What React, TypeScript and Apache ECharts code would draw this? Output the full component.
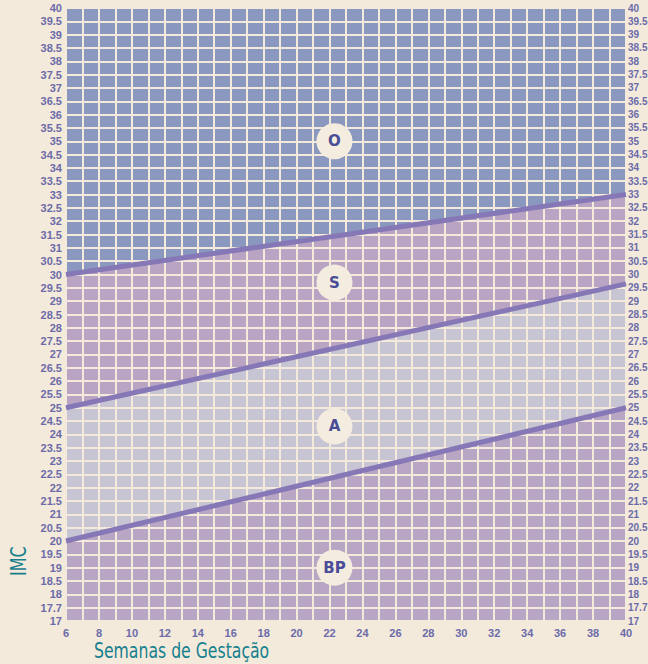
import React, { useEffect, useRef } from "react";
import * as echarts from "echarts";

const weeks = [6, 40];
const boundaryOS = [30, 33];
const boundarySA = [25, 29.65];
const boundaryABP = [20, 25];
const zoneLabels = ["O", "S", "A", "BP"];
const zoneLabelPoints = [
  [22.3, 35],
  [22.3, 29.7],
  [22.3, 24.3],
  [22.3, 19],
];
const yTickRename: Record<string, string> = { "17.5": "17.7" };

const BG = "#f3eadb";
const C_O = "#8a97bf";
const C_S = "#baa4c3";
const C_A = "#c7c4d3";
const C_BP = "#b9a5c4";
const LINE = "#8678b6";
const TICK = "#6c6aa9";
const TEAL = "#17808f";

function pts(vals: number[]) {
  return weeks.map((w, i) => [w, vals[i]]);
}

export default function App() {
  const ref = useRef<HTMLDivElement>(null);
  useEffect(() => {
    const chart = echarts.init(ref.current!, null, { renderer: "svg" });
    const yLabel = {
      color: TICK,
      fontWeight: "bold" as const,
      fontFamily: "Liberation Sans, Arial, sans-serif",
      formatter: (v: number) => yTickRename[String(v)] ?? String(v),
    };
    const split = { show: true, lineStyle: { color: BG, width: 2 } };
    const areaSeries = (vals: number[], color: string, origin: string, z: number) => ({
      type: "line",
      data: pts(vals),
      symbol: "none",
      z,
      lineStyle: { width: 0 },
      areaStyle: { color, opacity: 1, origin },
      silent: true,
    });
    const lineSeries = (vals: number[]) => ({
      type: "line",
      data: pts(vals),
      symbol: "none",
      z: 20,
      lineStyle: { color: LINE, width: 5 },
      silent: true,
    });
    chart.setOption({
      animation: false,
      backgroundColor: BG,
      grid: { left: 66, right: 22, top: 8, bottom: 43, outerBoundsMode: "none", containLabel: false },
      xAxis: {
        type: "value",
        min: 6,
        max: 40,
        interval: 1,
        z: 10,
        axisLine: { show: false },
        axisTick: { show: false },
        splitLine: split,
        axisLabel: {
          color: TICK,
          fontSize: 11,
          fontWeight: "bold",
          fontFamily: "Liberation Sans, Arial, sans-serif",
          margin: 6,
          formatter: (v: number) => (v % 2 === 0 ? String(v) : ""),
        },
      },
      yAxis: [
        {
          type: "value",
          min: 17,
          max: 40,
          interval: 0.5,
          z: 10,
          axisLine: { show: false },
          axisTick: { show: false },
          splitLine: split,
          axisLabel: { ...yLabel, fontSize: 11, margin: 4 },
        },
        {
          type: "value",
          position: "right",
          min: 17,
          max: 40,
          interval: 0.5,
          z: 10,
          axisLine: { show: false },
          axisTick: { show: false },
          splitLine: { show: false },
          axisLabel: { ...yLabel, fontSize: 10, margin: 2 },
        },
      ],
      series: [
        areaSeries(boundaryOS, C_O, "end", 1),
        areaSeries(boundaryOS, C_S, "start", 1),
        areaSeries(boundarySA, C_A, "start", 2),
        areaSeries(boundaryABP, C_BP, "start", 3),
        lineSeries(boundaryOS),
        lineSeries(boundarySA),
        lineSeries(boundaryABP),
        {
          type: "scatter",
          z: 30,
          symbol: "circle",
          symbolSize: 36,
          itemStyle: { color: "#f4ecdf", opacity: 1 },
          data: zoneLabelPoints.map((p, i) => ({ value: p, name: zoneLabels[i] })),
          label: {
            show: true,
            position: "inside",
            formatter: (p: any) => p.name,
            color: "#4a4c97",
            fontSize: 15,
            fontWeight: "bold",
            fontFamily: "DejaVu Sans, sans-serif",
          },
          silent: true,
        },
      ],
      graphic: [
        {
          type: "text",
          x: 8,
          y: 576,
          rotation: Math.PI / 2,
          scaleX: 0.85,
          style: {
            text: "IMC",
            fill: TEAL,
            fontSize: 21,
            fontFamily: "Liberation Sans Narrow, DejaVu Sans Condensed, sans-serif",
            textVerticalAlign: "top",
          },
        },
        {
          type: "text",
          x: 94,
          y: 651,
          scaleX: 0.83,
          style: {
            text: "Semanas de Gestação",
            fill: TEAL,
            fontSize: 21,
            fontFamily: "Liberation Sans Narrow, DejaVu Sans Condensed, sans-serif",
            textVerticalAlign: "middle",
          },
        },
      ],
    });
    return () => chart.dispose();
  }, []);
  return (
    <div
      ref={ref}
      style={{ position: "fixed", left: 0, top: 0, width: 648, height: 664 }}
    />
  );
}
